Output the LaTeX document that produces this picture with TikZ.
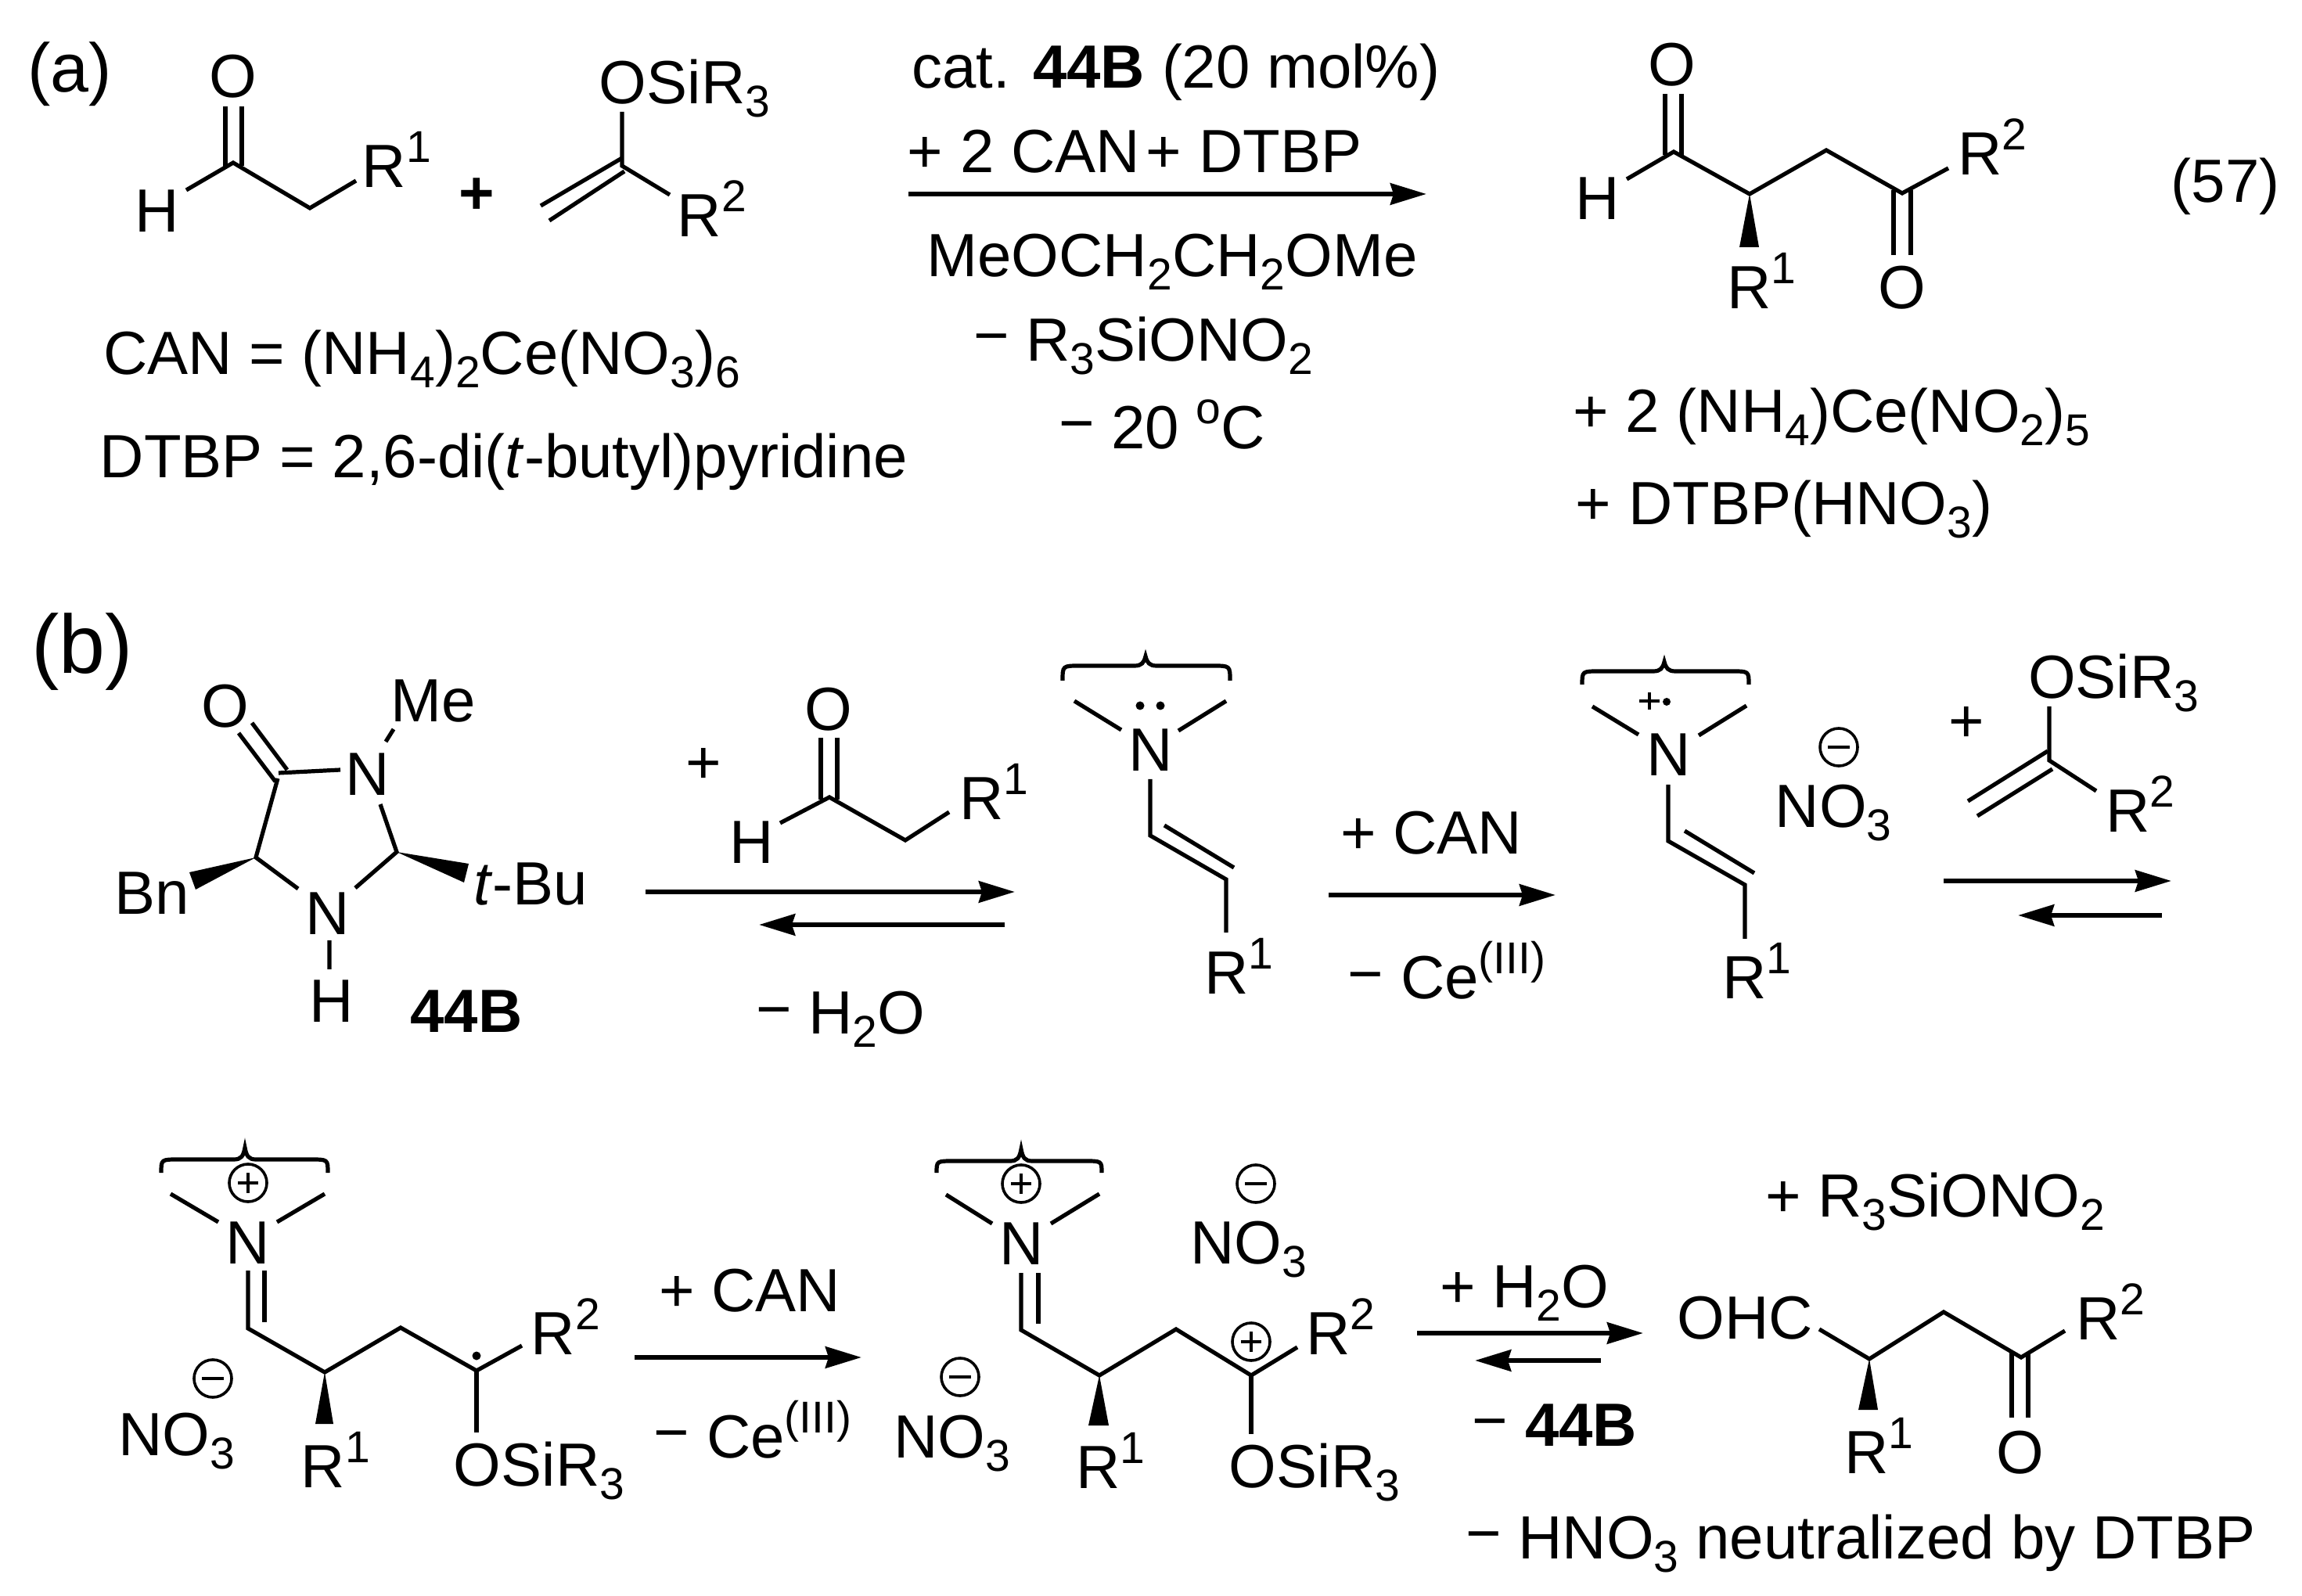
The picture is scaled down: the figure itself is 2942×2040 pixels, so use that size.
\documentclass[tikz,border=0pt]{standalone}
\usepackage{fontspec}
\setmainfont{Liberation Sans}
\usetikzlibrary{arrows.meta}
\newcommand\dn[1]{\raisebox{-4.25pt}{\fontsize{14.25pt}{15pt}\selectfont #1}}
\newcommand\up[1]{\raisebox{8pt}{\fontsize{14.25pt}{15pt}\selectfont #1}}
\newcommand\mn{\raisebox{1.5pt}{−}}
\newcommand\cc[3]{\coordinate (#1) at (#2,#3);}
% brace: name-prefix, x0, x1, cx, ytip, ymain, yend
\newcommand\chembrace[7]{%
  \cc{#1L}{#2}{#7}\cc{#1R}{#3}{#7}\cc{#1T}{#4}{#5}%
  \draw[brace] (#1L) .. controls (#2,#6) and (#2,#6) .. (#2+22,#6) -- (#4-14,#6)
     .. controls (#4-5,#6) and (#4-2,#6-4) .. (#1T)
     .. controls (#4+2,#6-4) and (#4+5,#6) .. (#4+14,#6) -- (#3-22,#6)
     .. controls (#3,#6) and (#3,#6) .. (#1R);}
% charge: name, x, y
\newcommand\chgplus[3]{\node[chg] (#1) at (#2,#3) {};
  \draw[sign] (#2-13,#3) -- (#2+13,#3) (#2,#3-13) -- (#2,#3+13);}
\newcommand\chgminus[3]{\node[chg] (#1) at (#2,#3) {};
  \draw[sign] (#2-14,#3) -- (#2+14,#3);}
\tikzset{
  lab/.style={anchor=base,inner sep=0pt,outer sep=0pt,font=\fontsize{19.5pt}{23pt}\selectfont},
  bond/.style={line width=1.3pt,line cap=butt,line join=miter},
  brace/.style={line width=1.3pt},
  rxn/.style={line width=1.6pt,-{Stealth[length=11.5pt,width=6.8pt,inset=1pt]}},
  chg/.style={draw,circle,line width=.9pt,minimum size=12pt,inner sep=0pt},
  sign/.style={line width=1.2pt},
  wedge/.style={fill=black,draw=none},
}
\begin{document}
\begin{tikzpicture}[x=0.25pt,y=-0.25pt]
\useasboundingbox (0,0) rectangle (2942,2040);
\fill[white] (0,0) rectangle (2942,2040);
% ---------- (a)
\node[lab,font=\fontsize{22pt}{24pt}\selectfont] (tagA) at (89,118) {(a)};
% aldehyde
\node[lab] (aO) at (298,125) {O};
\node[lab] (aH) at (201,297) {H};
\node[lab] (aR) at (507,240) {R\up{1}};
\cc{aC}{298}{208}\cc{aOl}{288}{136}\cc{aOr}{309}{136}\cc{aCl}{288}{213}\cc{aCr}{309}{212}
\cc{aHb}{238}{243}\cc{aM}{396}{266}\cc{aRb}{455}{231}
\draw[bond] (aOl) -- (aCl) (aOr) -- (aCr);
\draw[bond] (aHb) -- (aC) -- (aM) -- (aRb);
\node[lab] (plusA) at (609,274) {\textbf{+}};
% silyl enol ether
\node[lab] (bO) at (875,133) {OSiR\dn{3}};
\cc{bOb}{795}{143}\cc{bC}{795}{212}\cc{bU}{691}{263}\cc{bUe}{795}{202}\cc{bL}{702}{282}\cc{bLe}{798}{219}\cc{bRb}{856}{249}
\draw[bond] (bOb) -- (bC) -- (bRb);
\draw[bond] (bU) -- (bUe) (bL) -- (bLe);
\node[lab] (bR) at (910,303) {R\up{2}};
\node[lab] (defCAN) at (539,479) {CAN = (NH\dn{4})\dn{2}Ce(NO\dn{3})\dn{6}};
\node[lab] (defDTBP) at (644,611) {DTBP = 2,6-di(\textit{t}-butyl)pyridine};
% conditions
\node[lab] (c1) at (1503,113) {cat. \textbf{44B} (20 mol\%)};
\node[lab] (c2) at (1450,221) {+ 2 CAN\hspace{2pt}+ DTBP};
\cc{ar1s}{1161}{248}\cc{ar1e}{1823}{248}
\draw[rxn] (ar1s) -- (ar1e);
\node[lab] (c3) at (1498,354) {MeOCH\dn{2}CH\dn{2}OMe};
\node[lab] (c4) at (1461,462) {\mn{} R\dn{3}SiONO\dn{2}};
\node[lab] (c5) at (1485,574) {\mn{} 20 \up{o}C};
% product a
\node[lab] (pO) at (2137,110) {O};
\node[lab] (pH) at (2042,281) {H};
\node[lab] (pR1) at (2251,395) {R\up{1}};
\node[lab] (pO2) at (2431,395) {O};
\node[lab] (pR2) at (2546,224) {R\up{2}};
\cc{p1}{2139}{194}\cc{pOl}{2128}{120}\cc{pOr}{2149}{120}\cc{pCl}{2128}{198}\cc{pCr}{2149}{198}
\cc{pHb}{2079}{229}\cc{p2}{2236}{248}\cc{p3}{2334}{192}\cc{p4}{2431}{247}\cc{pRb}{2490}{215}
\cc{pDl}{2420}{326}\cc{pDr}{2442}{326}\cc{pDlt}{2420}{243}\cc{pDrt}{2442}{243}
\cc{pWl}{2223}{316}\cc{pWr}{2248}{316}
\draw[bond] (pOl) -- (pCl) (pOr) -- (pCr) (pDlt) -- (pDl) (pDrt) -- (pDr);
\draw[bond] (pHb) -- (p1) -- (p2) -- (p3) -- (p4) -- (pRb);
\fill[wedge] (p2) -- (pWl) -- (pWr) -- cycle;
\node[lab] (eq) at (2844,259) {(57)};
\node[lab] (by1) at (2341,553) {+ 2 (NH\dn{4})Ce(NO\dn{2})\dn{5}};
\node[lab] (by2) at (2280,671) {+ DTBP(HNO\dn{3})};
% ---------- (b)
\node[lab,font=\fontsize{26.5pt}{28pt}\selectfont] (tagB) at (105,861) {(b)};
% catalyst
\node[lab] (kO) at (288,930) {O};
\node[lab] (kN1) at (470,1017) {N};
\node[lab] (kMe) at (554,923) {Me};
\node[lab] (kN2) at (419,1194) {N};
\node[lab] (kH) at (424,1307) {H};
\node[lab] (kBn) at (194,1169) {Bn};
\node[lab] (ktBu) at (678,1157) {\textit{t}-Bu};
\node[lab] (kName) at (596,1320) {\textbf{44B}};
\cc{k1a}{322}{924}\cc{k1b}{367}{984}\cc{k2a}{305}{937}\cc{k2b}{352}{999}
\cc{kC}{356}{988}\cc{kNb}{435}{984}\cc{kA}{355}{995}\cc{kB}{327}{1096}\cc{kBe}{381}{1136}
\cc{kCe}{454}{1135}\cc{kD}{507}{1089}\cc{kDe}{486}{1028}
\cc{kMa}{503}{932}\cc{kMb}{493}{948}\cc{kHa}{421}{1202}\cc{kHb}{421}{1239}
\cc{kW1}{242}{1115}\cc{kW2}{250}{1137}\cc{kW3}{599}{1104}\cc{kW4}{593}{1128}
\draw[bond] (k1a) -- (k1b) (k2a) -- (k2b);
\draw[bond] (kC) -- (kNb);
\draw[bond] (kA) -- (kB) -- (kBe);
\draw[bond] (kCe) -- (kD) -- (kDe);
\draw[bond] (kMa) -- (kMb) (kHa) -- (kHb);
\fill[wedge] (kB) -- (kW1) -- (kW2) -- cycle;
\fill[wedge] (kD) -- (kW3) -- (kW4) -- cycle;
% reagent 1
\node[lab] (plusB) at (899,1002) {+};
\node[lab] (rO) at (1059,934) {O};
\node[lab] (rH) at (961,1104) {H};
\node[lab] (rR) at (1270,1048) {R\up{1}};
\cc{rOl}{1049}{943}\cc{rOr}{1070}{943}\cc{rCl}{1049}{1022}\cc{rCr}{1070}{1022}
\cc{rC}{1060}{1019}\cc{rHb}{997}{1052}\cc{rM}{1157}{1074}\cc{rRb}{1213}{1038}
\draw[bond] (rOl) -- (rCl) (rOr) -- (rCr);
\draw[bond] (rHb) -- (rC) -- (rM) -- (rRb);
\cc{ar2s}{825}{1140}\cc{ar2e}{1297}{1140}\cc{ar3s}{1284}{1182}\cc{ar3e}{970}{1182}
\draw[rxn] (ar2s) -- (ar2e);
\draw[rxn] (ar3s) -- (ar3e);
\node[lab] (mH2O) at (1074,1322) {\mn{} H\dn{2}O};
% enamine
\chembrace{e}{1358}{1572}{1464}{839}{851}{870}
\fill (1457,902) circle[radius=5.5] (1483,902) circle[radius=5.5];
\node[lab] (eN) at (1471,986) {N};
\node[lab] (eR) at (1583,1270) {R\up{1}};
\cc{eMa}{1373}{896}\cc{eMb}{1433}{933}\cc{eMc}{1567}{896}\cc{eMd}{1506}{934}
\cc{e1}{1470}{996}\cc{e2}{1470}{1068}\cc{e3}{1567}{1124}\cc{e4}{1567}{1192}\cc{e5}{1488}{1055}\cc{e6}{1577}{1109}
\draw[bond] (eMa) -- (eMb) (eMc) -- (eMd);
\draw[bond] (e1) -- (e2) -- (e3) -- (e4);
\draw[bond] (e5) -- (e6);
\node[lab] (pCAN1) at (1829,1092) {+ CAN};
\cc{ar4s}{1698}{1144}\cc{ar4e}{1988}{1144}
\draw[rxn] (ar4s) -- (ar4e);
\node[lab] (mCe1) at (1849,1277) {\mn{} Ce\up{(III)}};
% radical cation
\chembrace{f}{2022}{2235}{2127}{846}{858}{875}
\draw[line width=.9pt] (2095,896) -- (2121,896) (2108,885) -- (2108,907);
\fill (2130,897) circle[radius=5];
\node[lab] (fN) at (2133,992) {N};
\node[lab] (fR) at (2245,1277) {R\up{1}};
\cc{fMa}{2035}{903}\cc{fMb}{2094}{939}\cc{fMc}{2232}{902}\cc{fMd}{2171}{940}
\cc{f1}{2132}{1003}\cc{f2}{2132}{1075}\cc{f3}{2230}{1131}\cc{f4}{2230}{1200}\cc{f5}{2153}{1062}\cc{f6}{2242}{1116}
\draw[bond] (fMa) -- (fMb) (fMc) -- (fMd);
\draw[bond] (f1) -- (f2) -- (f3) -- (f4);
\draw[bond] (f5) -- (f6);
\chgminus{cm1}{2350}{955}
\node[lab] (no31) at (2343,1058) {NO\dn{3}};
\node[lab] (plusC) at (2513,949) {+};
\node[lab] (gO) at (2701,893) {OSiR\dn{3}};
\node[lab] (gR) at (2735,1064) {R\up{2}};
\cc{gOb}{2619}{903}\cc{gC}{2619}{972}\cc{gU}{2515}{1024}\cc{gUe}{2617}{960}\cc{gL}{2527}{1043}\cc{gLe}{2623}{983}\cc{gRb}{2679}{1011}
\draw[bond] (gOb) -- (gC) -- (gRb);
\draw[bond] (gU) -- (gUe) (gL) -- (gLe);
\cc{ar5s}{2484}{1126}\cc{ar5e}{2775}{1126}\cc{ar6s}{2763}{1170}\cc{ar6e}{2579}{1170}
\draw[rxn] (ar5s) -- (ar5e);
\draw[rxn] (ar6s) -- (ar6e);
% second row: radical
\chembrace{h}{206}{419}{313}{1467}{1482}{1499}
\chgplus{cp1}{317}{1512}
\node[lab] (hN) at (317,1615) {N};
\cc{hMa}{218}{1526}\cc{hMb}{279}{1562}\cc{hMc}{415}{1526}\cc{hMd}{354}{1562}
\cc{hNl}{317}{1624}\cc{hNr}{338}{1624}\cc{h1}{317}{1698}\cc{hDe}{338}{1690}
\cc{h2}{415}{1754}\cc{h3}{512}{1697}\cc{h4}{609}{1752}\cc{hRb}{667}{1720}\cc{hOb}{609}{1831}
\cc{hW1}{403}{1820}\cc{hW2}{426}{1820}
\draw[bond] (hMa) -- (hMb) (hMc) -- (hMd);
\draw[bond] (hNl) -- (h1) -- (h2) -- (h3) -- (h4) -- (hRb);
\draw[bond] (hNr) -- (hDe) (h4) -- (hOb);
\fill[wedge] (h2) -- (hW1) -- (hW2) -- cycle;
\fill (609,1733) circle[radius=5.5];
\node[lab] (hR2) at (723,1731) {R\up{2}};
\node[lab] (hR1) at (429,1901) {R\up{1}};
\node[lab] (hO) at (689,1899) {OSiR\dn{3}};
\chgminus{cm2}{272}{1762}
\node[lab] (no32) at (226,1860) {NO\dn{3}};
\node[lab] (pCAN2) at (958,1676) {+ CAN};
\cc{ar7s}{811}{1735}\cc{ar7e}{1101}{1735}
\draw[rxn] (ar7s) -- (ar7e);
\node[lab] (mCe2) at (962,1863) {\mn{} Ce\up{(III)}};
% dication
\chembrace{i}{1197}{1408}{1305}{1469}{1484}{1499}
\chgplus{cp2}{1305}{1513}
\node[lab] (iN) at (1306,1616) {N};
\cc{iMa}{1209}{1527}\cc{iMb}{1268}{1564}\cc{iMc}{1405}{1526}\cc{iMd}{1343}{1564}
\cc{iNl}{1305}{1627}\cc{iNr}{1327}{1627}\cc{i1}{1305}{1700}\cc{iDe}{1327}{1692}
\cc{i2}{1405}{1758}\cc{i3}{1503}{1699}\cc{i4}{1599}{1758}\cc{iRb}{1658}{1722}\cc{iOb}{1599}{1833}
\cc{iW1}{1391}{1822}\cc{iW2}{1417}{1822}
\draw[bond] (iMa) -- (iMb) (iMc) -- (iMd);
\draw[bond] (iNl) -- (i1) -- (i2) -- (i3) -- (i4) -- (iRb);
\draw[bond] (iNr) -- (iDe) (i4) -- (iOb);
\fill[wedge] (i2) -- (iW1) -- (iW2) -- cycle;
\chgplus{cp3}{1599}{1715}
\node[lab] (iR2) at (1713,1731) {R\up{2}};
\node[lab] (iR1) at (1419,1902) {R\up{1}};
\node[lab] (iO) at (1680,1901) {OSiR\dn{3}};
\chgminus{cm3}{1227}{1760}
\node[lab] (no33) at (1217,1863) {NO\dn{3}};
\chgminus{cm4}{1605}{1513}
\node[lab] (no34) at (1596,1615) {NO\dn{3}};
% last step
\node[lab] (pSi) at (2473,1555) {+ R\dn{3}SiONO\dn{2}};
\node[lab] (pH2O) at (1948,1671) {+ H\dn{2}O};
\cc{ar8s}{1811}{1704}\cc{ar8e}{2100}{1704}\cc{ar9s}{2046}{1739}\cc{ar9e}{1885}{1739}
\draw[rxn] (ar8s) -- (ar8e);
\draw[rxn] (ar9s) -- (ar9e);
\node[lab] (m44B) at (1987,1848) {\mn{} \textbf{44B}};
\node[lab] (jOHC) at (2230,1711) {OHC};
\node[lab] (jR2) at (2697,1712) {R\up{2}};
\node[lab] (jR1) at (2401,1883) {R\up{1}};
\node[lab] (jO) at (2582,1883) {O};
\cc{j0}{2325}{1699}\cc{j1}{2389}{1737}\cc{j2}{2484}{1677}\cc{j3}{2583}{1735}\cc{jRb}{2639}{1701}
\cc{jDl}{2571}{1812}\cc{jDr}{2592}{1812}\cc{jDlt}{2571}{1729}\cc{jDrt}{2592}{1729}
\cc{jW1}{2375}{1802}\cc{jW2}{2400}{1802}
\draw[bond] (j0) -- (j1) -- (j2) -- (j3) -- (jRb);
\draw[bond] (jDlt) -- (jDl) (jDrt) -- (jDr);
\fill[wedge] (j1) -- (jW1) -- (jW2) -- cycle;
\node[lab] (mHNO3) at (2378,1992) {\mn{} HNO\dn{3} neutralized by DTBP};
\end{tikzpicture}
\end{document}
